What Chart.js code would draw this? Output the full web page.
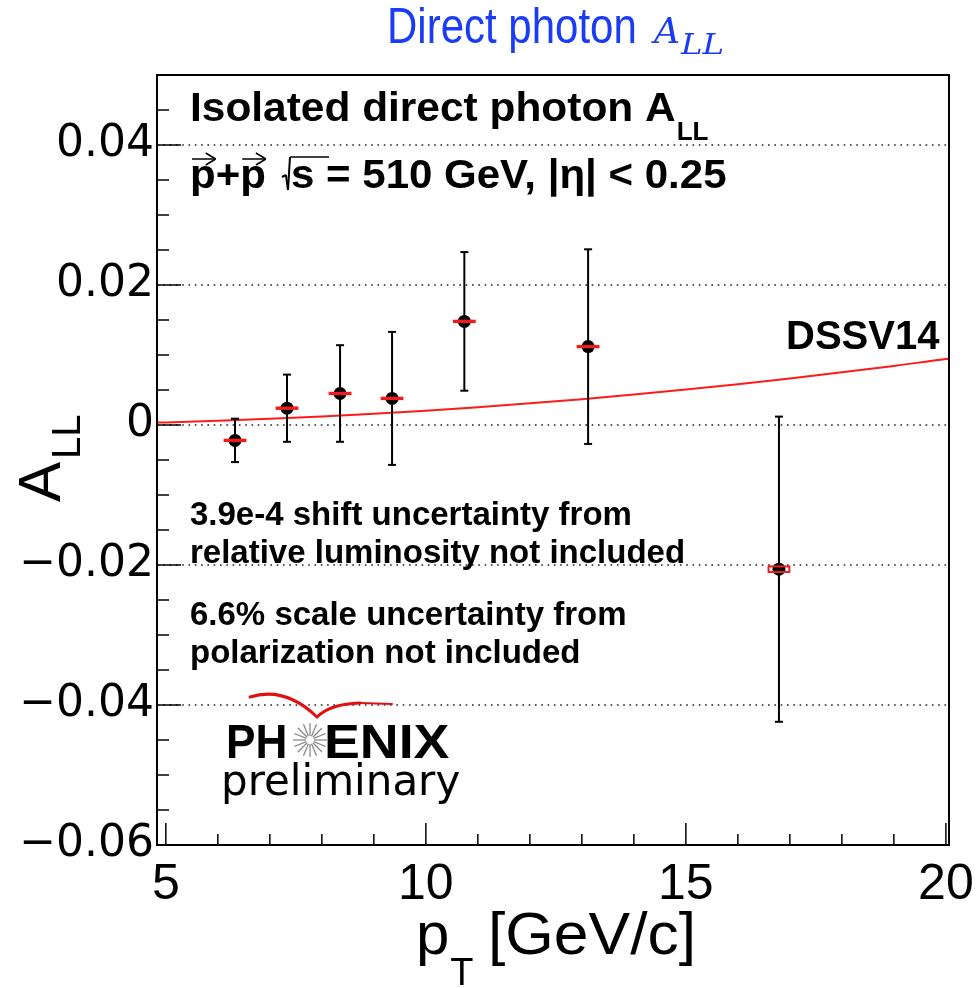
<!DOCTYPE html>
<html>
<head>
<meta charset="utf-8">
<script src="https://cdn.jsdelivr.net/npm/chart.js@4.4.1/dist/chart.umd.min.js"></script>
<style>
  html, body { margin: 0; padding: 0; background: #fff; }
  canvas { display: block; }
</style>
</head>
<body>
<canvas id="allChart" width="977" height="988"></canvas>
<script>
// Isolated direct photon A_LL vs pT, p+p at sqrt(s) = 510 GeV
const ptBins = [6.33, 7.33, 8.35, 9.35, 10.74, 13.12, 16.79];
const allValues = [-0.0022, 0.0024, 0.0045, 0.0038, 0.0148, 0.0112, -0.0206];
const statErrors = [0.0031, 0.0048, 0.0069, 0.0095, 0.0099, 0.0139, 0.0218];
const sysErrors = [0.0001, 0.0001, 0.0001, 0.0001, 0.0001, 0.0001, 0.0004];
const sysHalfWidth = 0.2;

// DSSV14 prediction
const dssvPt = [4.83, 5, 6, 7, 8, 9, 10, 11, 12, 13, 14, 15, 16, 17, 18, 19, 20, 20.06];
const dssvAll = [0.00034, 0.00037, 0.0006, 0.00088, 0.00121, 0.0016, 0.00204, 0.00254,
                 0.00309, 0.00369, 0.00435, 0.00506, 0.00583, 0.00664, 0.00752, 0.00844,
                 0.00943, 0.00948];

const xTicks = [5, 10, 15, 20];
const xTickLabels = ['5', '10', '15', '20'];
const yTicks = [-0.06, -0.04, -0.02, 0, 0.02, 0.04];
const yTickLabels = ['\u22120.06', '\u22120.04', '\u22120.02', '0', '0.02', '0.04'];

const SANS = '"Liberation Sans", Arial, sans-serif';
const DEJAVU = '"DejaVu Sans", sans-serif';

function txt(ctx, s, x, y, font, color, sx) {
    ctx.save();
    ctx.font = font;
    ctx.fillStyle = color || '#000';
    ctx.textAlign = 'left';
    ctx.textBaseline = 'alphabetic';
    ctx.translate(x, y);
    ctx.scale(sx || 1, 1);
    ctx.fillText(s, 0, 0);
    const w = ctx.measureText(s).width * (sx || 1);
    ctx.restore();
    return w;
}

function line(ctx, x1, y1, x2, y2) {
    ctx.beginPath();
    ctx.moveTo(x1, y1);
    ctx.lineTo(x2, y2);
    ctx.stroke();
}

const rootStyle = {
    id: 'rootStyle',
    beforeDatasetsDraw(chart) {
        const {ctx, chartArea: a, scales: {y}} = chart;
        // dotted grid at the labelled y values
        ctx.save();
        ctx.strokeStyle = '#222';
        ctx.lineWidth = 1.6;
        ctx.setLineDash([1.6, 4.7]);
        yTicks.forEach(v => {
            if (v <= y.min || v >= y.max) return;
            const py = Math.round(y.getPixelForValue(v));
            line(ctx, a.left, py, a.right, py);
        });
        ctx.restore();
    },
    afterDatasetsDraw(chart) {
        const {ctx, chartArea: a, scales: {x, y}} = chart;
        ctx.save();

        // statistical error bars
        ctx.strokeStyle = '#000';
        ctx.lineWidth = 2;
        ptBins.forEach((pt, i) => {
            const px = x.getPixelForValue(pt);
            const top = y.getPixelForValue(allValues[i] + statErrors[i]);
            const bot = y.getPixelForValue(allValues[i] - statErrors[i]);
            line(ctx, px, top, px, bot);
            line(ctx, px - 4, top, px + 4, top);
            line(ctx, px - 4, bot, px + 4, bot);
        });

        // systematic boxes
        ctx.strokeStyle = '#ee1c1c';
        ctx.lineWidth = 2;
        ptBins.forEach((pt, i) => {
            const x1 = x.getPixelForValue(pt - sysHalfWidth);
            const x2 = x.getPixelForValue(pt + sysHalfWidth);
            const y1 = y.getPixelForValue(allValues[i] + sysErrors[i]);
            const y2 = y.getPixelForValue(allValues[i] - sysErrors[i]);
            ctx.strokeRect(x1, y1, x2 - x1, y2 - y1);
        });

        // frame
        ctx.strokeStyle = '#000';
        ctx.lineWidth = 2;
        ctx.strokeRect(a.left, a.top, a.right - a.left, a.bottom - a.top);

        // inward tick marks
        ctx.lineWidth = 1.5;
        for (let v = 5; v <= 20; v += 1) {
            const px = x.getPixelForValue(v);
            const len = v % 5 === 0 ? 22 : 11;
            line(ctx, px, a.bottom, px, a.bottom - len);
        }
        for (let k = -12; k <= 10; k++) {
            const v = k * 0.005;
            const py = y.getPixelForValue(v);
            const len = k % 4 === 0 ? 24 : 12;
            line(ctx, a.left, py, a.left + len, py);
        }
        ctx.restore();
    },
    afterDraw(chart) {
        const ctx = chart.ctx;
        ctx.save();

        // page title
        const blue = '#1a3cf5';
        txt(ctx, 'Direct photon', 387, 43, '50px ' + SANS, blue, 0.84);
        const wa = txt(ctx, 'A', 654, 43, 'italic 36px "DejaVu Serif", serif', blue);
        txt(ctx, 'LL', 654 + wa + 1, 54, 'italic 27px "DejaVu Serif", serif', blue, 1.2);

        // header lines
        const bold41 = 'bold 41px ' + SANS;
        const w1 = txt(ctx, 'Isolated direct photon A', 190, 121, bold41, '#000', 1.035);
        txt(ctx, 'LL', 190 + w1 + 1, 140, 'bold 26px ' + SANS);

        const sx2 = 1.025;
        ctx.font = bold41;
        const wp = ctx.measureText('p').width * sx2;
        const wplus = ctx.measureText('+').width * sx2;
        txt(ctx, 'p+p', 190, 188, bold41, '#000', sx2);
        ctx.strokeStyle = '#000';
        ctx.lineWidth = 1.5;
        [190 + 2, 190 + wp + wplus + 2].forEach(ax => {
            line(ctx, ax, 159, ax + wp - 2, 159);
            line(ctx, ax + wp - 12, 153, ax + wp - 2, 159);
            line(ctx, ax + wp - 12, 165, ax + wp - 2, 159);
        });
        // square root sign
        ctx.lineWidth = 2;
        line(ctx, 282, 177, 286, 175);
        line(ctx, 286, 175, 288, 190);
        line(ctx, 288, 190, 290, 157);
        ctx.lineWidth = 1.5;
        line(ctx, 290, 157, 329, 157);
        const ws = txt(ctx, 's', 291, 188, bold41, '#000', sx2);
        txt(ctx, ' = 510 GeV, |\u03b7| < 0.25', 291 + ws, 188, bold41, '#000', sx2);

        // theory label
        txt(ctx, 'DSSV14', 786, 349, 'bold 40px ' + SANS);

        // uncertainty notes
        const bold33 = 'bold 33px ' + SANS;
        txt(ctx, '3.9e-4 shift uncertainty from', 190, 525, bold33);
        txt(ctx, 'relative luminosity not included', 190, 563, bold33);
        txt(ctx, '6.6% scale uncertainty from', 190, 625, bold33);
        txt(ctx, 'polarization not included', 190, 663, bold33);

        // PHENIX preliminary mark
        ctx.strokeStyle = '#e01010';
        ctx.lineWidth = 3;
        ctx.lineCap = 'round';
        ctx.beginPath();
        ctx.moveTo(250, 697);
        ctx.quadraticCurveTo(285, 686, 317, 717);
        ctx.quadraticCurveTo(330, 704, 360, 703);
        ctx.stroke();
        ctx.lineWidth = 2;
        ctx.beginPath();
        ctx.moveTo(360, 703);
        ctx.lineTo(392, 704);
        ctx.stroke();
        ctx.lineCap = 'butt';

        const bold48 = 'bold 48px ' + SANS;
        txt(ctx, 'PH', 226, 758, bold48, '#000', 0.92);
        txt(ctx, 'ENIX', 324, 758, bold48, '#000', 1.12);
        ctx.strokeStyle = '#8a8a8a';
        ctx.lineWidth = 1.3;
        for (let k = 0; k < 16; k++) {
            const t = k * Math.PI / 8;
            line(ctx, 310 + 4 * Math.cos(t), 740 + 4 * Math.sin(t),
                      310 + 17 * Math.cos(t), 740 + 17 * Math.sin(t));
        }
        txt(ctx, 'preliminary', 221, 795, '42px ' + DEJAVU);

        // axis titles
        const wpT = txt(ctx, 'p', 416, 954, '60px ' + SANS);
        txt(ctx, 'T', 416 + wpT + 1, 985, '38px ' + SANS);
        txt(ctx, '[GeV/c]', 488, 954, '60px ' + SANS, '#000', 1.04);

        ctx.save();
        ctx.translate(60, 502);
        ctx.rotate(-Math.PI / 2);
        ctx.font = '60px ' + SANS;
        ctx.fillStyle = '#000';
        ctx.fillText('A', 0, 0);
        const wA = ctx.measureText('A').width;
        ctx.font = '40px ' + SANS;
        ctx.fillText('LL', wA + 3, 20);
        ctx.restore();

        ctx.restore();
    }
};

const chart = new Chart(document.getElementById('allChart').getContext('2d'), {
    type: 'scatter',
    data: {
        datasets: [{
            label: 'DSSV14',
            data: dssvPt.map((pt, i) => ({x: pt, y: dssvAll[i]})),
            showLine: true,
            borderColor: '#ff1a1a',
            borderWidth: 2,
            pointRadius: 0,
            cubicInterpolationMode: 'monotone',
        }, {
            label: 'PHENIX',
            data: ptBins.map((pt, i) => ({x: pt, y: allValues[i]})),
            pointRadius: 6.5,
            pointBackgroundColor: '#000',
            pointBorderWidth: 0,
        }],
    },
    options: {
        responsive: false,
        animation: false,
        devicePixelRatio: 1,
        layout: { padding: { top: 75, right: 28, left: 0, bottom: 0 } },
        plugins: {
            legend: { display: false },
            tooltip: { enabled: false },
        },
        scales: {
            x: {
                type: 'linear',
                min: 4.83,
                max: 20.06,
                afterBuildTicks: s => { s.ticks = xTicks.map(v => ({value: v})); },
                afterFit: s => { s.height = 143; s.paddingLeft = 0; s.paddingRight = 0; },
                grid: { display: false, drawTicks: false },
                border: { display: false },
                ticks: {
                    padding: 10,
                    color: '#000',
                    font: { family: SANS, size: 50 },
                    maxRotation: 0,
                    callback: v => xTickLabels[xTicks.indexOf(v)],
                },
            },
            y: {
                type: 'linear',
                min: -0.06,
                max: 0.05,
                afterBuildTicks: s => { s.ticks = yTicks.map(v => ({value: v})); },
                afterFit: s => { s.width = 157; s.paddingTop = 0; s.paddingBottom = 0; },
                grid: { display: false, drawTicks: false },
                border: { display: false },
                ticks: {
                    padding: 3,
                    color: '#000',
                    font: { family: DEJAVU, size: 44 },
                    callback: v => yTickLabels[yTicks.indexOf(v)],
                },
            },
        },
    },
    plugins: [rootStyle],
});
</script>
</body>
</html>
